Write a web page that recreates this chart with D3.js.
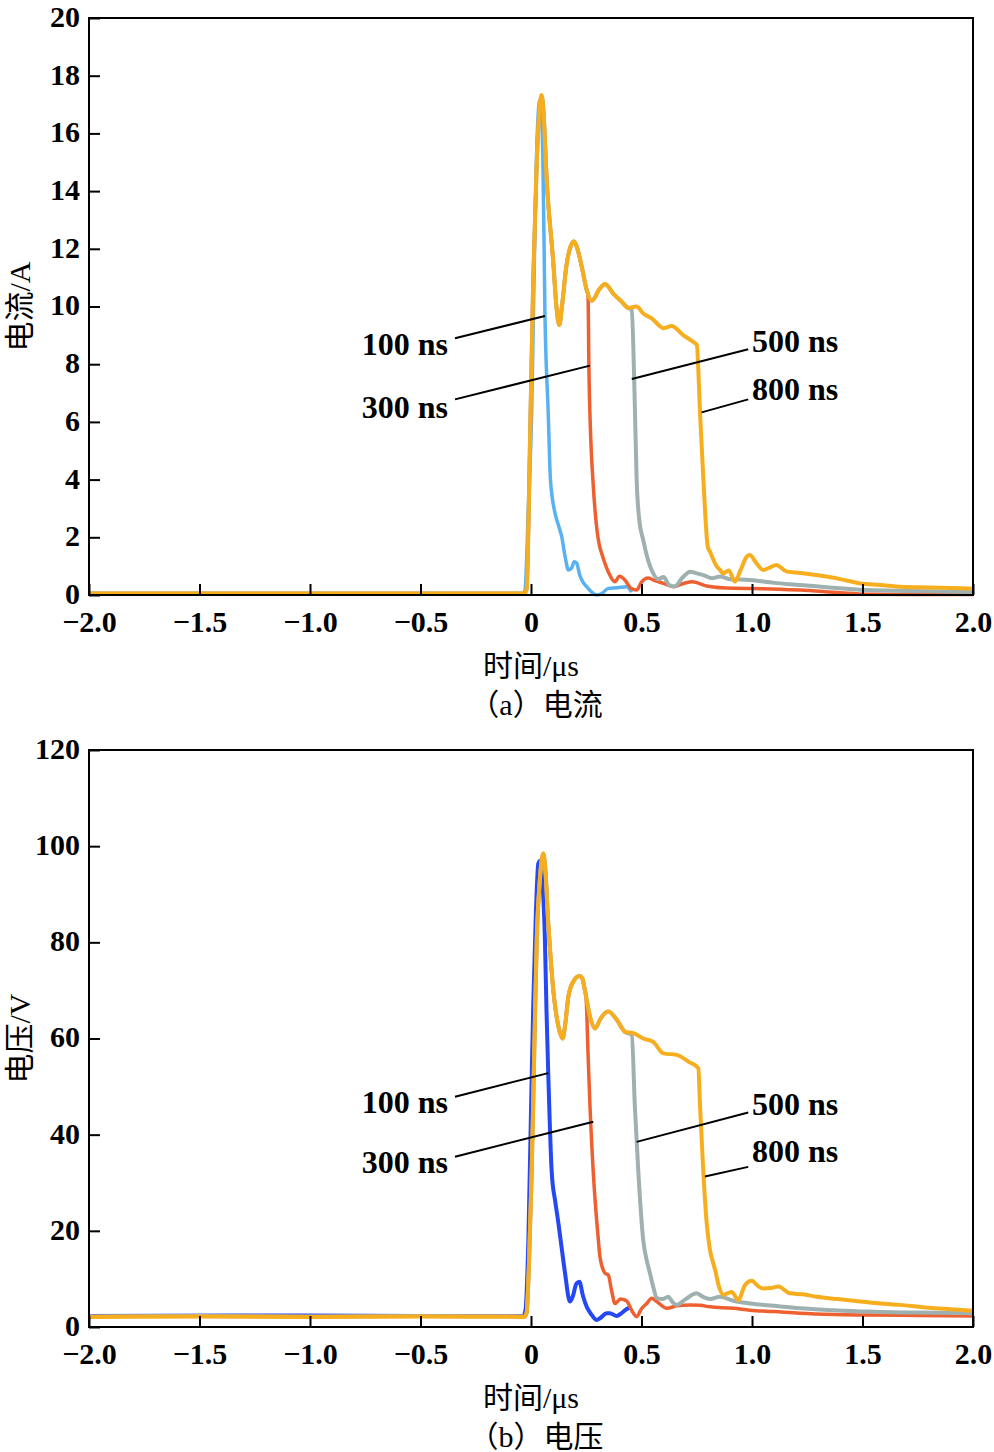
<!DOCTYPE html>
<html>
<head>
<meta charset="utf-8">
<script src="https://cdn.jsdelivr.net/npm/d3@7"></script>
<style>
  body { margin: 0; background: #fff; }
  svg text { font-family: "Liberation Serif", "Noto Sans CJK SC", serif; fill: #000; }
</style>
</head>
<body>
<svg id="chart" width="994" height="1452"></svg>
<script>
// x axis (shared)
const xTicks = [-2, -1.5, -1, -0.5, 0, 0.5, 1, 1.5, 2];
const xTickLabels = ["\u22122.0", "\u22121.5", "\u22121.0", "\u22120.5", "0", "0.5", "1.0", "1.5", "2.0"];
const pulseWidths = ["100 ns", "300 ns", "500 ns", "800 ns"];

// (a) current, A  -- [time us, value]
const curTicks = [0, 2, 4, 6, 8, 10, 12, 14, 16, 18, 20];
const cur100 = [[-2,0.03],[-1,0.03],[-0.5,0.03],[-0.035,0.03],[-0.027,0.17],[-0.012,3.0],[0.003,6.3],[0.015,11.5],[0.026,15.5],[0.04,17.15],[0.053,15.5],[0.063,9.77],[0.078,6.3],[0.088,4.0],[0.109,2.83],[0.125,2.4],[0.139,2.02],[0.155,1.3],[0.169,0.87],[0.185,0.95],[0.195,1.15],[0.207,1.1],[0.22,0.7],[0.235,0.45],[0.252,0.29],[0.275,0.1],[0.297,0.0],[0.32,0.05],[0.35,0.23],[0.39,0.25],[0.433,0.29],[0.455,0.1]];
const cur300 = [[-2,0.05],[-1,0.05],[-0.5,0.05],[-0.03,0.05],[-0.02,0.2],[-0.005,5.1],[0.01,10.9],[0.026,15.0],[0.04,17.0],[0.048,17.3],[0.056,16.8],[0.071,14.4],[0.101,11.5],[0.115,10.0],[0.128,9.36],[0.14,10.0],[0.16,11.4],[0.18,12.1],[0.195,12.25],[0.21,12.0],[0.229,11.4],[0.252,10.57],[0.258,10.4],[0.262,7.9],[0.27,5.5],[0.28,4.0],[0.295,2.5],[0.31,1.7],[0.32,1.44],[0.35,0.8],[0.38,0.46],[0.40,0.65],[0.425,0.52],[0.45,0.25],[0.478,0.17],[0.5,0.45],[0.53,0.59],[0.56,0.5],[0.6,0.4],[0.644,0.29],[0.69,0.4],[0.73,0.46],[0.8,0.3],[0.915,0.23],[1.05,0.22],[1.217,0.17],[1.4,0.08],[1.52,0.03],[1.7,0.02],[2.0,0.02]];
const cur500 = [[-2,0.05],[-1,0.05],[-0.5,0.05],[-0.03,0.05],[-0.02,0.2],[-0.005,5.1],[0.01,10.9],[0.026,15.0],[0.04,17.0],[0.048,17.3],[0.056,16.8],[0.071,14.4],[0.101,11.5],[0.115,10.0],[0.128,9.36],[0.14,10.0],[0.16,11.4],[0.18,12.1],[0.195,12.25],[0.21,12.0],[0.229,11.4],[0.252,10.57],[0.275,10.2],[0.312,10.63],[0.335,10.78],[0.372,10.45],[0.41,10.17],[0.44,9.95],[0.456,9.9],[0.467,7.45],[0.478,4.0],[0.49,2.6],[0.508,1.9],[0.53,1.2],[0.553,0.75],[0.575,0.55],[0.6,0.62],[0.625,0.35],[0.65,0.3],[0.685,0.6],[0.72,0.81],[0.75,0.75],[0.78,0.69],[0.82,0.58],[0.855,0.64],[0.9,0.55],[0.99,0.52],[1.1,0.42],[1.217,0.35],[1.35,0.26],[1.52,0.17],[1.7,0.14],[1.85,0.12],[2.0,0.1]];
const cur800 = [[-2,0.05],[-1,0.05],[-0.5,0.05],[-0.03,0.05],[-0.02,0.2],[-0.005,5.1],[0.01,10.9],[0.026,15.0],[0.04,17.0],[0.048,17.33],[0.056,16.8],[0.071,14.4],[0.101,11.5],[0.115,10.0],[0.128,9.36],[0.14,10.0],[0.16,11.4],[0.18,12.1],[0.195,12.25],[0.21,12.0],[0.229,11.4],[0.252,10.57],[0.275,10.2],[0.312,10.63],[0.335,10.78],[0.372,10.45],[0.41,10.17],[0.44,9.95],[0.478,10.0],[0.508,9.76],[0.546,9.59],[0.6,9.25],[0.636,9.32],[0.69,9.0],[0.733,8.78],[0.75,8.67],[0.765,6.3],[0.78,4.0],[0.80,1.67],[0.81,1.5],[0.84,1.0],[0.855,0.87],[0.87,0.75],[0.895,0.85],[0.923,0.46],[0.95,0.9],[0.976,1.33],[0.99,1.39],[1.02,1.1],[1.05,0.87],[1.08,0.95],[1.11,1.04],[1.157,0.81],[1.2,0.78],[1.29,0.69],[1.4,0.55],[1.49,0.4],[1.58,0.35],[1.67,0.29],[1.8,0.26],[1.9,0.24],[2.0,0.22]];

// (b) voltage, V
const voltTicks = [0, 20, 40, 60, 80, 100, 120];
const volt100 = [[-2,2.3],[-1,2.4],[-0.5,2.3],[-0.035,2.3],[-0.025,3.5],[-0.012,18],[0.0,45],[0.01,66.6],[0.022,86],[0.033,96.4],[0.044,97],[0.053,92],[0.063,80.5],[0.07,66],[0.078,52.8],[0.094,32],[0.11,26],[0.124,21.6],[0.14,16],[0.154,11.2],[0.176,5.3],[0.19,6.5],[0.205,9.0],[0.219,9.4],[0.235,6.5],[0.252,4.2],[0.275,2.5],[0.297,1.46],[0.312,1.8],[0.343,2.85],[0.357,2.85],[0.388,2.3],[0.41,2.9],[0.44,3.9],[0.455,4.0]];
const volt300 = [[-2,2.2],[-1.5,2.3],[-1,2.2],[-0.5,2.3],[-0.03,2.2],[-0.02,2.9],[-0.01,12],[0.003,32],[0.015,58],[0.026,80.5],[0.04,93],[0.056,98.5],[0.065,95],[0.078,84],[0.09,76],[0.101,70],[0.124,62.5],[0.143,60],[0.155,63],[0.169,68.7],[0.191,71.8],[0.219,73],[0.232,72.5],[0.244,70],[0.249,68.7],[0.258,57],[0.267,45.8],[0.282,32],[0.305,18],[0.312,14.6],[0.335,11.2],[0.35,10.8],[0.365,7.5],[0.38,4.9],[0.405,5.8],[0.433,5.4],[0.455,3.5],[0.478,2.15],[0.5,3.8],[0.524,4.9],[0.546,6.0],[0.569,5.3],[0.614,3.9],[0.66,4.4],[0.72,4.6],[0.765,4.5],[0.81,4.2],[0.915,3.9],[0.991,3.5],[1.1,3.2],[1.217,2.85],[1.37,2.6],[1.519,2.5],[1.75,2.4],[2.0,2.3]];
const volt500 = [[-2,2.2],[-1.5,2.3],[-1,2.2],[-0.5,2.3],[-0.03,2.2],[-0.02,2.9],[-0.01,12],[0.003,32],[0.015,58],[0.026,80.5],[0.04,93],[0.056,98.5],[0.065,95],[0.078,84],[0.09,76],[0.101,70],[0.124,62.5],[0.143,60],[0.155,63],[0.169,68.7],[0.191,71.8],[0.219,73],[0.232,72.5],[0.244,70],[0.267,64.5],[0.29,62.1],[0.312,63.9],[0.335,65.3],[0.35,65.6],[0.388,63.9],[0.425,61.4],[0.456,60.7],[0.47,45.8],[0.486,32],[0.508,18],[0.523,14],[0.538,11.2],[0.555,8],[0.569,6.0],[0.595,5.8],[0.621,6.3],[0.64,5.2],[0.659,4.6],[0.7,5.8],[0.75,7.0],[0.78,6.2],[0.81,5.8],[0.855,6.3],[0.92,5.4],[0.991,4.9],[1.1,4.4],[1.217,3.9],[1.37,3.5],[1.519,3.2],[1.75,3.0],[2.0,2.85]];
const volt800 = [[-2,2.1],[-1.5,2.2],[-1,2.1],[-0.5,2.2],[-0.03,2.1],[-0.02,2.9],[-0.01,12],[0.003,32],[0.015,58],[0.026,80.5],[0.04,93],[0.056,98.5],[0.065,95],[0.078,84],[0.09,76],[0.101,70],[0.124,62.5],[0.143,60],[0.155,63],[0.169,68.7],[0.191,71.8],[0.219,73],[0.232,72.5],[0.244,70],[0.267,64.5],[0.29,62.1],[0.312,63.9],[0.335,65.3],[0.35,65.6],[0.388,63.9],[0.425,61.4],[0.463,61.1],[0.508,60],[0.553,59.3],[0.599,56.9],[0.659,56.6],[0.712,55.2],[0.757,53.8],[0.765,45.8],[0.78,32],[0.795,21.6],[0.81,16],[0.825,13.2],[0.833,11.9],[0.85,8.5],[0.87,6.7],[0.908,7.3],[0.938,5.6],[0.968,8.7],[0.999,9.6],[1.025,8.6],[1.051,8.0],[1.085,8.1],[1.119,8.4],[1.172,7.0],[1.23,6.8],[1.293,6.3],[1.39,5.8],[1.489,5.3],[1.58,4.9],[1.67,4.6],[1.8,4.0],[1.9,3.7],[2.0,3.4]];

// leader lines in data units: [lineStart, lineEnd, textPos, anchor]
const curNotes = [
  [[-0.344, 8.9], [0.063, 9.67], [-0.376, 8.32], "end"],
  [[-0.344, 6.78], [0.267, 7.95], [-0.376, 6.14], "end"],
  [[0.456, 7.49], [0.983, 8.52], [1.0, 8.42], "start"],
  [[0.772, 6.33], [0.983, 6.78], [1.0, 6.76], "start"]
];
const voltNotes = [
  [[-0.344, 47.9], [0.078, 52.8], [-0.376, 44.5], "end"],
  [[-0.344, 35.4], [0.282, 42.7], [-0.376, 32.0], "end"],
  [[0.478, 38.5], [0.983, 44.6], [1.0, 44.1], "start"],
  [[0.787, 31.3], [0.983, 33.3], [1.0, 34.3], "start"]
];

var svg = d3.select("#chart");

function drawPanel(opt) {
  var x = d3.scaleLinear().domain([-2, 2]).range([89, 973]);
  var y = d3.scaleLinear().domain([0, opt.ticks[opt.ticks.length - 1]]).range([opt.bottom, opt.top]);
  var g = svg.append("g");

  var line = d3.line()
    .curve(d3.curveMonotoneX)
    .x(function(d) { return x(d[0]); })
    .y(function(d) { return y(d[1]); });

  // series, orange last so it sits on top
  opt.series.forEach(function(s) {
    g.append("path")
      .datum(s.data)
      .attr("fill", "none")
      .attr("stroke", s.color)
      .attr("stroke-width", s.width)
      .attr("stroke-linejoin", "round")
      .attr("d", line);
  });

  // x axis
  var xa = g.append("g")
    .attr("transform", "translate(0," + opt.bottom + ")")
    .call(d3.axisBottom(x).tickValues(xTicks)
      .tickFormat(function(d, i) { return xTickLabels[i]; })
      .tickSizeInner(-11).tickSizeOuter(0).tickPadding(16));
  // y axis
  var ya = g.append("g")
    .attr("transform", "translate(89,0)")
    .call(d3.axisLeft(y).tickValues(opt.ticks)
      .tickSizeInner(-11).tickSizeOuter(0).tickPadding(9));
  [xa, ya].forEach(function(a) {
    a.select(".domain").remove();
    a.selectAll("line").attr("stroke", "#000").attr("stroke-width", 2);
    a.selectAll("text").attr("font-size", 30).attr("font-weight", "bold")
      .style("font-family", "'Liberation Serif', serif");
  });
  ya.selectAll("text").attr("dy", "0.28em");

  // frame
  g.append("rect")
    .attr("x", x(-2)).attr("y", y(opt.ticks[opt.ticks.length - 1]))
    .attr("width", x(2) - x(-2)).attr("height", y(0) - y(opt.ticks[opt.ticks.length - 1]))
    .attr("fill", "none").attr("stroke", "#000").attr("stroke-width", 2);

  // pulse width labels with leader lines
  opt.notes.forEach(function(n, i) {
    g.append("line")
      .attr("x1", x(n[0][0])).attr("y1", y(n[0][1]))
      .attr("x2", x(n[1][0])).attr("y2", y(n[1][1]))
      .attr("stroke", "#000").attr("stroke-width", 2);
    g.append("text")
      .attr("x", x(n[2][0])).attr("y", y(n[2][1]))
      .attr("text-anchor", n[3])
      .attr("font-size", 32).attr("font-weight", "bold")
      .text(pulseWidths[i]);
  });

  // axis titles
  g.append("text")
    .attr("transform", "translate(" + 30 + "," + ((opt.top + opt.bottom) / 2) + ") rotate(-90)")
    .attr("text-anchor", "middle")
    .attr("font-size", 30)
    .text(opt.yTitle);
  g.append("text")
    .attr("x", 531).attr("y", opt.bottom + 81)
    .attr("text-anchor", "middle")
    .attr("font-size", 30)
    .text("时间/μs");
  g.append("text")
    .attr("x", 536).attr("y", opt.bottom + 120)
    .attr("text-anchor", "middle")
    .attr("font-size", 30)
    .text(opt.caption);
}

drawPanel({
  top: 18, bottom: 595, ticks: curTicks,
  yTitle: "电流/A", caption: "（a）电流", notes: curNotes,
  series: [
    { data: cur100, color: "#58b2f2", width: 3.5 },
    { data: cur300, color: "#ef6030", width: 3.5 },
    { data: cur500, color: "#9fb0b0", width: 4 },
    { data: cur800, color: "#f7ae1e", width: 4 }
  ]
});

drawPanel({
  top: 750, bottom: 1327, ticks: voltTicks,
  yTitle: "电压/V", caption: "（b）电压", notes: voltNotes,
  series: [
    { data: volt100, color: "#2448f4", width: 4 },
    { data: volt300, color: "#ef6030", width: 3.5 },
    { data: volt500, color: "#9fb0b0", width: 4 },
    { data: volt800, color: "#f7ae1e", width: 4 }
  ]
});
</script>
</body>
</html>
